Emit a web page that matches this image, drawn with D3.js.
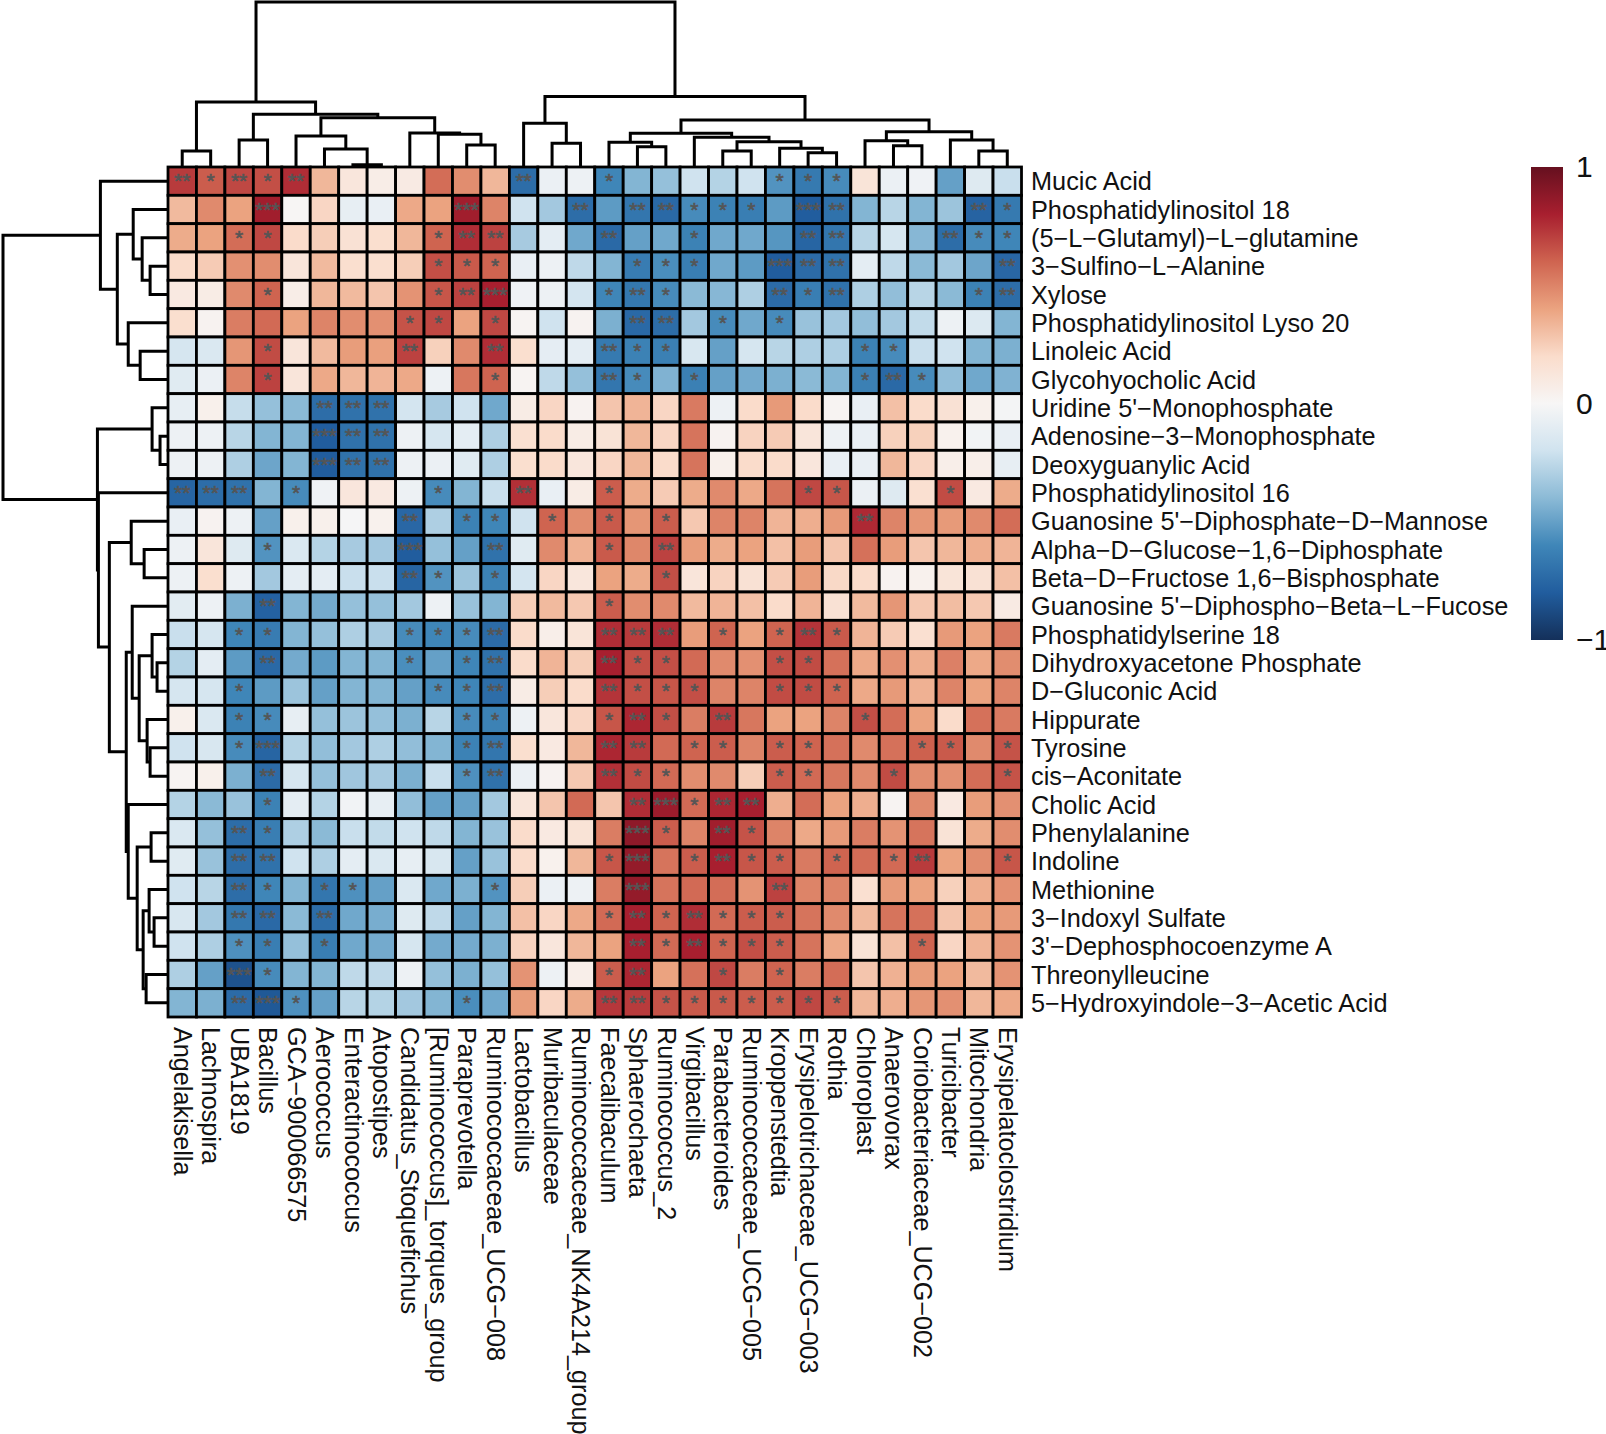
<!DOCTYPE html>
<html><head><meta charset="utf-8">
<script src="https://cdnjs.cloudflare.com/ajax/libs/d3/7.8.5/d3.min.js"></script>
<style>html,body{margin:0;padding:0;background:#fff}svg{display:block}text{font-family:"Liberation Sans",Arial,sans-serif;fill:#111}</style>
</head><body><div id="chart"></div>
<script>
const rowNames=["Mucic Acid","Phosphatidylinositol 18","(5−L−Glutamyl)−L−glutamine","3−Sulfino−L−Alanine","Xylose","Phosphatidylinositol Lyso 20","Linoleic Acid","Glycohyocholic Acid","Uridine 5'−Monophosphate","Adenosine−3−Monophosphate","Deoxyguanylic Acid","Phosphatidylinositol 16","Guanosine 5'−Diphosphate−D−Mannose","Alpha−D−Glucose−1,6−Diphosphate","Beta−D−Fructose 1,6−Bisphosphate","Guanosine 5'−Diphospho−Beta−L−Fucose","Phosphatidylserine 18","Dihydroxyacetone Phosphate","D−Gluconic Acid","Hippurate","Tyrosine","cis−Aconitate","Cholic Acid","Phenylalanine","Indoline","Methionine","3−Indoxyl Sulfate","3'−Dephosphocoenzyme A","Threonylleucine","5−Hydroxyindole−3−Acetic Acid"];
const colNames=["Angelakisella","Lachnospira","UBA1819","Bacillus","GCA−900066575","Aerococcus","Enteractinococcus","Atopostipes","Candidatus_Stoquefichus","[Ruminococcus]_torques_group","Paraprevotella","Ruminococcaceae_UCG−008","Lactobacillus","Muribaculaceae","Ruminococcaceae_NK4A214_group","Faecalibaculum","Sphaerochaeta","Ruminococcus_2","Virgibacillus","Parabacteroides","Ruminococcaceae_UCG−005","Kroppenstedtia","Erysipelotrichaceae_UCG−003","Rothia","Chloroplast","Anaerovorax","Coriobacteriaceae_UCG−002","Turicibacter","Mitochondria","Erysipelatoclostridium"];
const correlation=[
[.72,.62,.68,.66,.76,.33,.12,.07,.09,.57,.47,.33,-.72,-.06,-.05,-.6,-.42,-.37,-.2,-.28,-.2,-.55,-.66,-.58,.14,-.06,-.04,-.5,-.13,-.22],
[.32,.48,.4,.82,.01,.22,-.08,-.07,.38,.4,.82,.5,-.2,-.33,-.72,-.52,-.68,-.74,-.58,-.62,-.64,-.52,-.8,-.7,-.42,-.27,-.42,-.35,-.77,-.66],
[.37,.4,.57,.68,.2,.25,.16,.18,.33,.6,.76,.7,-.32,-.1,-.47,-.74,-.5,-.47,-.62,-.47,-.47,-.54,-.76,-.68,-.27,-.17,-.41,-.72,-.58,-.6],
[.2,.26,.46,.47,.13,.32,.18,.18,.25,.66,.63,.6,-.07,-.05,-.25,-.42,-.65,-.57,-.64,-.47,-.52,-.8,-.73,-.7,-.1,-.25,-.4,-.33,-.48,-.75],
[.1,.08,.48,.6,.07,.33,.32,.28,.45,.64,.7,.8,-.04,-.05,-.18,-.6,-.67,-.58,-.4,-.41,-.3,-.73,-.64,-.7,-.3,-.38,-.27,-.4,-.62,-.72],
[.18,.03,.52,.58,.4,.5,.47,.46,.65,.68,.4,.68,.02,-.2,.03,-.44,-.74,-.72,-.33,-.58,-.47,-.58,-.36,-.33,-.38,-.33,-.24,-.05,-.14,-.42],
[-.17,-.15,.44,.67,.13,.32,.42,.41,.7,.24,.48,.76,.18,-.09,-.1,-.66,-.62,-.63,-.16,-.5,-.17,-.27,-.3,-.3,-.62,-.58,-.22,-.2,-.42,-.44],
[-.12,-.06,.5,.7,.13,.38,.33,.34,.38,-.05,.54,.6,.02,-.25,-.37,-.68,-.58,-.43,-.63,-.5,-.46,-.44,-.4,-.42,-.63,-.74,-.58,-.38,-.47,-.43],
[-.08,.05,-.23,-.37,-.4,-.72,-.7,-.7,-.18,-.32,-.2,-.47,.08,.22,.03,.28,.34,.22,.53,-.05,.2,.43,.2,.02,-.07,.3,.2,.16,.05,-.02],
[-.05,-.05,-.27,-.42,-.42,-.8,-.7,-.7,-.05,-.17,-.1,-.3,.17,.2,.08,.15,.33,.22,.55,.03,.23,.26,.13,-.05,-.07,.24,.24,.04,-.03,-.07],
[-.05,-.05,-.3,-.48,-.42,-.8,-.7,-.7,-.05,-.06,-.12,-.3,.18,.2,.12,.22,.33,.2,.55,.05,.2,.2,.12,-.07,-.07,.33,.22,.06,.06,-.08],
[-.76,-.72,-.7,-.42,-.58,-.04,.12,.1,-.05,-.58,-.42,-.22,.75,-.07,.08,.62,.37,.26,.37,.48,.38,.55,.68,.64,-.06,-.13,.17,.67,.1,.37],
[-.07,.03,-.05,-.5,.05,.05,-.01,.04,-.75,-.3,-.62,-.6,-.2,.6,.47,.63,.44,.62,.27,.5,.5,.34,.36,.43,.77,.5,.44,.43,.48,.57],
[-.05,.13,-.13,-.55,-.15,-.28,-.32,-.33,-.8,-.37,-.5,-.7,-.12,.48,.35,.63,.49,.7,.42,.37,.4,.3,.42,.28,.56,.42,.28,.33,.36,.34],
[-.05,.18,-.05,-.33,-.1,-.1,-.22,-.22,-.76,-.55,-.35,-.62,-.18,.22,.12,.4,.37,.66,.13,.23,.16,.26,.42,.21,.2,.03,.04,.14,.16,.3],
[-.11,-.05,-.44,-.78,-.42,-.46,-.37,-.37,-.33,-.05,-.36,-.42,.25,.32,.27,.62,.47,.48,.32,.34,.3,.2,.34,.16,.32,.44,.27,.31,.27,.09],
[-.22,-.17,-.6,-.65,-.42,-.37,-.3,-.32,-.58,-.6,-.58,-.73,.2,.06,.14,.76,.72,.76,.42,.6,.4,.6,.74,.63,.34,.26,.17,.43,.4,.53],
[-.28,-.1,-.52,-.74,-.46,-.52,-.42,-.42,-.57,-.5,-.6,-.7,.2,.34,.25,.8,.66,.66,.58,.48,.46,.66,.67,.56,.38,.46,.36,.51,.38,.47],
[-.17,-.17,-.6,-.52,-.35,-.5,-.42,-.42,-.5,-.58,-.6,-.72,.08,.25,.2,.74,.66,.64,.66,.5,.5,.67,.67,.6,.38,.43,.35,.5,.4,.5],
[.05,-.15,-.62,-.58,-.08,-.37,-.35,-.37,-.44,-.27,-.58,-.62,-.05,.12,.22,.64,.78,.66,.52,.72,.54,.4,.4,.5,.66,.57,.4,.2,.56,.53],
[-.2,-.16,-.58,-.76,-.28,-.38,-.33,-.3,-.38,-.42,-.62,-.68,.18,.1,.33,.78,.72,.58,.6,.62,.5,.62,.6,.56,.48,.56,.61,.63,.48,.65],
[.02,.05,-.44,-.73,-.17,-.37,-.34,-.32,-.44,-.22,-.56,-.7,-.06,.03,.27,.75,.67,.58,.47,.48,.25,.62,.58,.54,.48,.67,.47,.46,.57,.65],
[-.28,-.4,-.36,-.62,-.1,-.28,-.03,-.08,-.38,-.5,-.5,-.33,.13,.28,.58,.28,.76,.84,.58,.78,.8,.36,.57,.4,.36,.02,.48,.1,.42,.46],
[-.15,-.37,-.72,-.64,-.3,-.4,-.22,-.24,-.2,-.25,-.42,-.36,.2,.1,.15,.52,.88,.62,.5,.82,.65,.5,.38,.43,.52,.45,.55,.15,.37,.47],
[-.12,-.36,-.72,-.7,-.2,-.3,-.1,-.15,-.08,-.16,-.5,-.36,.2,.04,.33,.64,.86,.55,.62,.8,.64,.62,.53,.6,.57,.58,.72,.4,.47,.64],
[-.2,-.27,-.72,-.6,-.42,-.68,-.56,-.5,-.15,-.47,-.44,-.55,.25,-.06,-.05,.52,.86,.55,.58,.57,.45,.7,.5,.5,.17,.43,.4,.24,.36,.46],
[-.16,-.33,-.67,-.74,-.4,-.72,-.47,-.45,-.13,-.25,-.5,-.42,.3,.22,.38,.58,.8,.6,.76,.58,.62,.62,.55,.48,.32,.55,.56,.28,.4,.43],
[-.2,-.3,-.56,-.64,-.37,-.64,-.47,-.46,-.17,-.46,-.46,-.44,.23,.12,.33,.4,.8,.58,.8,.6,.66,.62,.55,.38,.15,.3,.6,.22,.34,.45],
[-.3,-.5,-.85,-.58,-.42,-.42,-.25,-.25,-.05,-.37,-.44,-.37,.45,-.05,.06,.62,.78,.4,.56,.68,.52,.6,.52,.57,.28,.35,.42,.4,.32,.45],
[-.42,-.44,-.73,-.82,-.56,-.5,-.27,-.28,-.33,-.42,-.57,-.47,.42,.22,.37,.73,.72,.65,.63,.63,.62,.62,.68,.62,.33,.36,.44,.46,.33,.38]
];
const significance=[
"212120000000200100000111000000","000300000030002022111032000021","001100000122000200100022000211","000000000111000011100322000002",
"000100000123000121000212000012","000000001101000022010100000000","000100002002000211000000110000","000100000001000210100000121000",
"000002220000000000000000000000","000003220000000000000000000000","000003220000000000000000000000","222010000100200100000011000100",
"000000002011010101000000200000","000100003002000102000000000000","000000002101000001000000000000","000200000000000100000000000000",
"001100001112000222010121000000","000200001012000211000110000000","001000000112000211100111000000","001100000011000121020000100000",
"001300000012000220110110001101","000200000012000211000110010001","000100000000000023122000000000","002100000000000031021000000000",
"002200000000000130121101012001","002101100001000030000200000000","002202000000000121211100000000","001101000000000021211100001000",
"003100000000000120010100000000","002310000010000221111111000000"];
const legendTicks=[1,0,-1];
const colorDomain=[-1,-.8,-.6,-.4,-.2,0,.2,.4,.6,.8,1];
const colorRange=["#14305a","#215d9e","#3f86b8","#8bbad6","#d0e3ef","#f7f6f6","#fadccb","#eba380","#cf6450","#a81f2f","#66101f"];
// merge trees: [height, childA, childB]; integers are leaf indices
const colTree=[165,[65,[16,0,1],[52.7,[27,2,3],[49.3,[31,4,[18,5,[2.3,6,7]]],[34,8,[32.7,9,[22,10,11]]]]]],[70.5,[43.7,12,[23.7,13,14]],[47,[33.7,[24.7,15,[20.3,16,17]],[29.7,18,[25.3,[16,19,20],[18.7,21,[14.3,22,23]]]]],[35.3,[26.3,24,[21.3,25,26]],[27,27,[16,28,29]]]]]];
const rowTree=[165,[67,0,[50,[34,1,[25,2,[17,3,4]]],[39,5,[27,6,7]]]],[70,[15,8,[7,9,10]],[69,11,[58,[36,12,[23,13,14]],[41,[35,15,[28,[15,16,[10,17,18]],[20,19,[17,20,21]]]],[39,22,[30,[16,23,24],[24,[18,25,[13,26,27]],[21,28,29]]]]]]]]];

const W=1606,H=1434,L=168,T=167,GW=853.5,GH=850;
const svg=d3.select("#chart").append("svg").attr("width",W).attr("height",H);
const x=d3.scaleBand().domain(d3.range(30)).range([L,L+GW]);
const y=d3.scaleBand().domain(d3.range(30)).range([T,T+GH]);
const color=d3.scaleLinear().domain(colorDomain).range(colorRange);
const cells=correlation.flatMap((r,i)=>r.map((v,j)=>({i,j,v,s:+significance[i][j]})));
svg.append("g").selectAll("rect").data(cells).join("rect")
 .attr("x",d=>x(d.j)).attr("y",d=>y(d.i)).attr("width",x.bandwidth()).attr("height",y.bandwidth())
 .attr("fill",d=>color(d.v)).attr("stroke","#000").attr("stroke-width",2.8);
svg.append("g").selectAll("text").data(cells.filter(d=>d.s>0)).join("text")
 .attr("x",d=>x(d.j)+x.bandwidth()/2).attr("y",d=>y(d.i)+y.bandwidth()/2+7)
 .attr("text-anchor","middle").style("font-size","21px").style("fill","#555").style("stroke","#555").style("stroke-width","0.6px").text(d=>"*".repeat(d.s));

function segments(node,leafPos,hScale){
 if(typeof node==="number")return{p:leafPos(node),h:hScale(0),segs:[]};
 const a=segments(node[1],leafPos,hScale),b=segments(node[2],leafPos,hScale),h=hScale(node[0]);
 const segs=a.segs.concat(b.segs,[[a.p,a.h,a.p,h,b.p,h,b.p,b.h]]);
 return{p:(a.p+b.p)/2,h,segs};
}
function drawTree(tree,leafPos,hScale,vertical){
 const g=svg.append("g");
 g.selectAll("path").data(segments(tree,leafPos,hScale).segs).join("path")
  .attr("fill","none").attr("stroke","#000").attr("stroke-width",3).attr("stroke-linecap","butt").attr("stroke-linejoin","miter")
  .attr("d",s=>{const p=d3.path();
    const m=vertical?(u,v)=>[u,v]:(u,v)=>[v,u];
    p.moveTo(...m(s[0],s[1]));p.lineTo(...m(s[2],s[3]));p.lineTo(...m(s[4],s[5]));p.lineTo(...m(s[6],s[7]));return p.toString();});
}
drawTree(colTree,j=>x(j)+x.bandwidth()/2,d3.scaleLinear().domain([0,165]).range([T,2]),true);
drawTree(rowTree,i=>y(i)+y.bandwidth()/2,d3.scaleLinear().domain([0,165]).range([L-1,3]),false);

const rowAxis=d3.axisRight(d3.scaleBand().domain(rowNames).range([T,T+GH])).tickSize(0).tickPadding(0);
const rg=svg.append("g").attr("transform",`translate(${L+GW+9.5},1.2)`).call(rowAxis);
rg.select(".domain").remove();
rg.selectAll("text").style("font-size","25.3px").style("font-family",'"Liberation Sans",Arial,sans-serif').style("fill","#111");
const colAxis=d3.axisBottom(d3.scaleBand().domain(colNames).range([L,L+GW])).tickSize(0).tickPadding(0);
const cg=svg.append("g").attr("transform",`translate(0,${T+GH+10})`).call(colAxis);
cg.select(".domain").remove();
cg.selectAll("text").attr("transform","rotate(90)").attr("x",0).attr("y",0).attr("dy","0.33em").style("text-anchor","start")
 .style("font-size","25.2px").style("font-family",'"Liberation Sans",Arial,sans-serif').style("fill","#111");

const defs=svg.append("defs");
const grad=defs.append("linearGradient").attr("id","lg").attr("x1",0).attr("x2",0).attr("y1",1).attr("y2",0);
grad.selectAll("stop").data(colorDomain).join("stop").attr("offset",d=>(d+1)/2).attr("stop-color",d=>color(d));
const ls=d3.scaleLinear().domain([-1,1]).range([640,167]);
svg.append("rect").attr("x",1531).attr("y",ls(1)).attr("width",32).attr("height",ls(-1)-ls(1)).attr("fill","url(#lg)");
const la=d3.axisRight(ls).tickValues(legendTicks).tickSize(0).tickPadding(0).tickFormat(d=>d<0?"−"+Math.abs(d):d);
const lg=svg.append("g").attr("transform","translate(1576,0)").call(la);
lg.select(".domain").remove();
lg.selectAll("text").style("font-size","30px").style("font-family",'"Liberation Sans",Arial,sans-serif').style("fill","#111");
</script></body></html>
